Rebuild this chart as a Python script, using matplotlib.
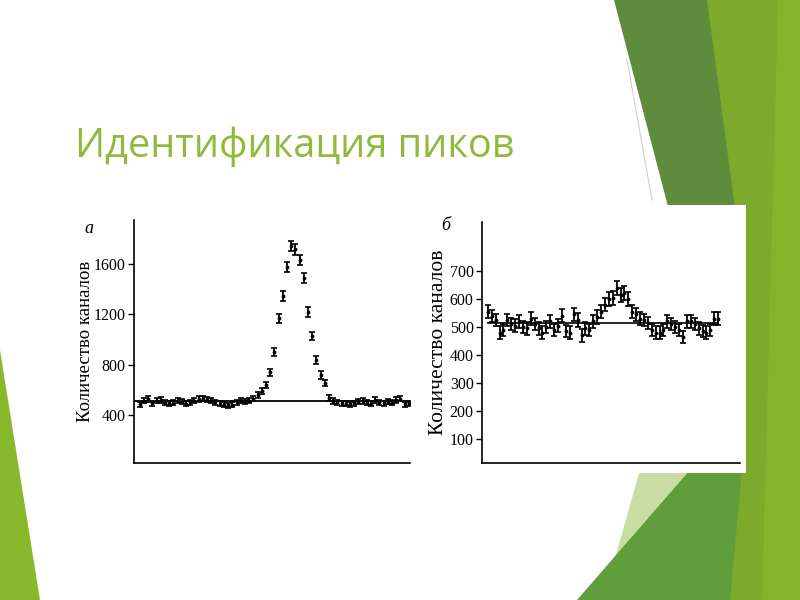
import numpy as np
import matplotlib
matplotlib.use('Agg')
import matplotlib.pyplot as plt
from matplotlib.patches import Polygon, Rectangle

# panel a: counts per channel with peak
a_counts = [485, 515, 525, 495, 512, 520, 500, 492, 496, 515, 505, 490,
            500, 515, 525, 530, 522, 515, 500, 488, 480, 478, 482, 500,
            512, 508, 515, 530, 555, 590, 640, 740, 899, 1168, 1343, 1572,
            1739, 1712, 1628, 1485, 1216, 1026, 836, 717, 653, 535, 512,
            500, 495, 488, 485, 492, 505, 512, 498, 490, 520, 500, 495,
            505, 498, 520, 530, 485, 495]
a_err = [20, 20, 22, 20, 20, 22, 20, 20, 20, 20, 20, 20,
         20, 20, 22, 22, 20, 20, 20, 20, 20, 20, 20, 20,
         20, 20, 22, 22, 24, 24, 25, 28, 32, 36, 38, 40,
         42, 42, 40, 38, 36, 33, 30, 28, 26, 24, 22,
         20, 20, 20, 20, 20, 20, 22, 20, 20, 24, 22, 20,
         20, 20, 22, 22, 20, 20]
a_base = 510
a_ticks = [400, 800, 1200, 1600]

# panel b: counts per channel, weak peak
b_counts = [555, 540, 525, 480, 490, 525, 510, 505, 520, 500, 495, 530,
            510, 495, 480, 500, 520, 490, 505, 540, 485, 480, 545, 525,
            470, 495, 490, 520, 535, 555, 580, 600, 605, 640, 615, 620,
            600, 555, 545, 530, 525, 515, 490, 480, 480, 490, 520, 510,
            500, 490, 465, 520, 520, 510, 495, 485, 480, 490, 530, 530]
b_err = [22, 22, 22, 22, 22, 22, 22, 22, 22, 22, 22, 22,
         22, 22, 22, 22, 22, 22, 22, 24, 22, 22, 24, 24,
         22, 22, 22, 22, 24, 24, 24, 25, 25, 26, 25, 25,
         25, 24, 24, 24, 22, 22, 22, 22, 22, 22, 22, 22,
         22, 22, 22, 22, 22, 22, 22, 22, 22, 22, 22, 22]
b_base = 515
b_ticks = [100, 200, 300, 400, 500, 600, 700]

title = 'Идентификация пиков'
ylab = 'Количество каналов'

fig = plt.figure(figsize=(8, 6), dpi=100)
fig.patch.set_facecolor('white')

# slide background shapes (pixel coords)
bg = fig.add_axes([0, 0, 1, 1], zorder=-5)
bg.set_xlim(0, 800)
bg.set_ylim(600, 0)
bg.axis('off')
bg.add_patch(Polygon([(700, 0), (800, 0), (800, 600), (722, 600)], color='#7daa2a', lw=0))
bg.add_patch(Polygon([(778, 0), (800, 0), (800, 600), (762, 600)], color='#84b32c', lw=0))
bg.add_patch(Polygon([(614, 0), (707, 0), (742, 260), (682, 260)], color='#5f8c3c', lw=0))
bg.plot([627, 652], [60, 200], color='#d0d0d0', lw=0.8)
bg.add_patch(Polygon([(640, 470), (692, 470), (615, 558)], color='#c8dca4', lw=0))
bg.add_patch(Polygon([(577, 600), (730, 600), (742, 470), (690, 470)], color='#5f9e3a', lw=0))
bg.add_patch(Polygon([(0, 350), (40, 600), (0, 600)], color='#88b82c', lw=0))
bg.add_patch(Rectangle((425, 205), 321, 268, color='white', lw=0))

fig.text(75 / 800, 1 - 157 / 600, title, fontsize=28.5, color='#8fba3c',
         family='Open Sans', va='baseline', ha='left')

serif = 'Liberation Serif'

# panel a
ax1 = fig.add_axes([134 / 800, 1 - 463 / 600, 276 / 800, 243 / 600])
xa = np.arange(len(a_counts))
ax1.errorbar(xa, a_counts, yerr=a_err, fmt='.', color='black', ms=3.5,
             capsize=2, elinewidth=1.3, capthick=1.2)
ax1.axhline(a_base, color='black', lw=1.3)
ax1.set_xlim(-1.4, 64.3)
ax1.set_ylim(20, 1945)
ax1.set_yticks(a_ticks)
ax1.set_xticks([])
ax1.set_ylabel(ylab, family=serif, fontsize=13.5, labelpad=0)
ax1.text(-0.18, 1.0, 'а', transform=ax1.transAxes, family=serif,
         style='italic', fontsize=13, va='top')

# panel b
ax2 = fig.add_axes([482 / 800, 1 - 463 / 600, 258 / 800, 241 / 600])
xb = np.arange(len(b_counts))
ax2.errorbar(xb, b_counts, yerr=b_err, fmt='.', color='black', ms=3.5,
             capsize=2, elinewidth=1.3, capthick=1.2)
ax2.hlines(b_base, -0.3, len(b_counts) - 0.7, color='black', lw=1.2)
ax2.set_xlim(-1.5, 64.6)
ax2.set_ylim(14, 875)
ax2.set_yticks(b_ticks)
ax2.set_xticks([])
ax2.set_ylabel(ylab, family=serif, fontsize=15.5, labelpad=1)
ax2.text(-0.16, 1.02, 'б', transform=ax2.transAxes, family=serif,
         style='italic', fontsize=13, va='top')

for ax in (ax1, ax2):
    ax.set_facecolor('none')
    ax.spines['top'].set_visible(False)
    ax.spines['right'].set_visible(False)
    ax.spines['left'].set_linewidth(1.2)
    ax.spines['bottom'].set_linewidth(1.2)
    ax.tick_params(axis='y', length=4, width=1, labelsize=11.5, pad=2)
    for lab in ax.get_yticklabels():
        lab.set_family(serif)

fig.savefig('out.png', dpi=100)
